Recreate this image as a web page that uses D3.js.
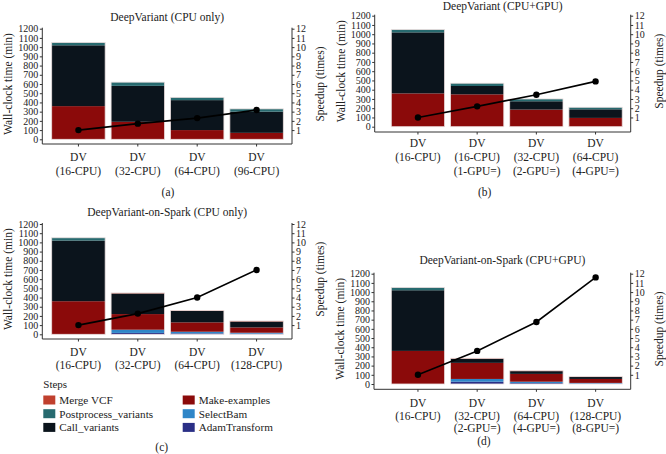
<!DOCTYPE html>
<html><head><meta charset="utf-8">
<script src="https://cdn.jsdelivr.net/npm/d3@7"></script>
<style>body{margin:0;background:#fff}</style>
</head><body>
<script>
// ---- data ----
const steps = ["AdamTransform","SelectBam","Make-examples","Call_variants","Postprocess_variants","Merge VCF"];
const stepColors = ["#2a2f86","#2f86c8","#8b0a0a","#0b141c","#276a6f","#c0402e"];

const catsA = [["DV","(16-CPU)"],["DV","(32-CPU)"],["DV","(64-CPU)"],["DV","(96-CPU)"]];
const catsB = [["DV","(16-CPU)"],["DV","(16-CPU)","(1-GPU=)"],["DV","(32-CPU)","(2-GPU=)"],["DV","(64-CPU)","(4-GPU=)"]];
const catsC = [["DV","(16-CPU)"],["DV","(32-CPU)"],["DV","(64-CPU)"],["DV","(128-CPU)"]];
const catsD = [["DV","(16-CPU)"],["DV","(32-CPU)","(2-GPU=)"],["DV","(64-CPU)","(4-GPU=)"],["DV","(128-CPU)","(8-GPU=)"]];

// minutes per step, order = steps
const adamA = [0,0,0,0],   selectA = [0,0,0,0],   makeA = [360,190,100,70], callA = [660,390,325,230], postA = [30,40,30,30], mergeA = [0,0,0,0];
const adamB = [0,0,0,0],   selectB = [0,0,0,0],   makeB = [360,350,185,95], callB = [660,90,90,93],    postB = [30,30,25,22], mergeB = [0,0,0,0];
const adamC = [0,15,10,7], selectC = [0,35,18,10], makeC = [360,170,102,58], callC = [660,225,125,65], postC = [30,0,0,0],  mergeC = [0,5,5,5];
const adamD = [0,25,10,5], selectD = [0,30,15,7],  makeD = [360,175,85,43],  callD = [660,45,30,22],   postD = [30,0,0,0],  mergeD = [0,5,5,3];

const speedA = [1,1.7,2.3,3.18];
const speedB = [1,2.2,3.45,4.9];
const speedC = [1,2.25,4.0,7.0];
const speedD = [1,3.6,6.75,11.6];

const titles = ["DeepVariant (CPU only)","DeepVariant (CPU+GPU)","DeepVariant-on-Spark (CPU only)","DeepVariant-on-Spark (CPU+GPU)"];
const captions = ["(a)","(b)","(c)","(d)"];
const yTicks = d3.range(0,1201,100);
const sTicks = d3.range(1,13,1);

const FONT = "Liberation Serif, DejaVu Serif, serif";

// ---- layout ----
const panels = [
 {cats:catsA, vals:[adamA,selectA,makeA,callA,postA,mergeA], speed:speedA, left:42.3, right:292, y0:139.3, yTop:28.7, bottom:144, bx:[51.7,283.3], titleY:17, labY:156.7, labDy:14, capX:168, capY:192.3},
 {cats:catsB, vals:[adamB,selectB,makeB,callB,postB,mergeB], speed:speedB, left:374.7, right:630.7, y0:126.7, yTop:15.7, bottom:132, bx:[391.3,622.2], titleY:5.5, labY:142.7, labDy:14, capX:484.7, capY:192.3},
 {cats:catsC, vals:[adamC,selectC,makeC,callC,postC,mergeC], speed:speedC, left:42.3, right:292, y0:334.3, yTop:224, bottom:339, bx:[51.7,283.3], titleY:212.3, labY:351.7, labDy:13.5, capX:161.7, capY:447.3},
 {cats:catsD, vals:[adamD,selectD,makeD,callD,postD,mergeD], speed:speedD, left:374, right:630.7, y0:384, yTop:273.7, bottom:389.3, bx:[391.3,622.3], titleY:260, labY:403.3, labDy:12.5, capX:484, capY:441}
];

const svg = d3.select("body").append("svg").attr("width",666).attr("height",454).attr("font-family",FONT);

panels.forEach((p,pi)=>{
  const g = svg.append("g");
  const idx = d3.range(p.cats.length);
  const x = d3.scaleBand().domain(idx).range(p.bx).paddingInner(0.1).paddingOuter(0);
  const y = d3.scaleLinear().domain([0,1200]).range([p.y0,p.yTop]);
  const s = d3.scaleLinear().domain([0,12]).range([p.y0,p.yTop]);

  // stacked bars
  const rows = idx.map(i=>{const o={i}; steps.forEach((st,k)=>o[st]=p.vals[k][i]); return o;});
  const series = d3.stack().keys(steps)(rows);
  series.forEach((ser,k)=>{
    g.append("g").selectAll("rect").data(ser).join("rect")
      .attr("x",d=>x(d.data.i)).attr("width",x.bandwidth())
      .attr("y",d=>y(d[1])).attr("height",d=>Math.max(0,y(d[0])-y(d[1])))
      .attr("fill",stepColors[k]);
  });
  // bar outline
  g.append("g").selectAll("rect").data(rows).join("rect")
    .attr("x",d=>x(d.i)).attr("width",x.bandwidth())
    .attr("y",d=>y(d3.sum(steps,st=>d[st]))).attr("height",d=>y(0)-y(d3.sum(steps,st=>d[st])))
    .attr("fill","none").attr("stroke","#eadede").attr("stroke-width",0.8);

  // speedup line
  const line = d3.line().x((d,i)=>x(i)+x.bandwidth()/2).y(d=>s(d));
  g.append("path").datum(p.speed).attr("d",line).attr("fill","none").attr("stroke","#000").attr("stroke-width",1.6);
  g.append("g").selectAll("circle").data(p.speed).join("circle")
    .attr("cx",(d,i)=>x(i)+x.bandwidth()/2).attr("cy",d=>s(d)).attr("r",3.2).attr("fill","#000");

  // left axis
  const la = g.append("g").attr("transform",`translate(${p.left},0)`)
    .call(d3.axisLeft(y).tickValues(yTicks).tickFormat(d3.format("d")).tickSize(2.5).tickPadding(1.5));
  la.attr("font-family",FONT).attr("font-size",10);
  la.select(".domain").remove();
  la.selectAll("text").attr("fill","#222");
  la.selectAll("line").attr("stroke","#333");
  // right axis
  const ra = g.append("g").attr("transform",`translate(${p.right},0)`)
    .call(d3.axisRight(s).tickValues(sTicks).tickFormat(d3.format("d")).tickSize(2.5).tickPadding(1.5));
  ra.attr("font-family",FONT).attr("font-size",10);
  ra.select(".domain").remove();
  ra.selectAll("text").attr("fill","#222");
  ra.selectAll("line").attr("stroke","#333");

  // frame lines
  g.append("line").attr("x1",p.left).attr("x2",p.left).attr("y1",p.yTop-1).attr("y2",p.bottom).attr("stroke","#333");
  g.append("line").attr("x1",p.right).attr("x2",p.right).attr("y1",p.yTop-1).attr("y2",p.bottom).attr("stroke","#333");
  g.append("line").attr("x1",p.left).attr("x2",p.right).attr("y1",p.bottom).attr("y2",p.bottom).attr("stroke","#333");
  // x ticks & labels
  idx.forEach(i=>{
    const cx = x(i)+x.bandwidth()/2;
    g.append("line").attr("x1",cx).attr("x2",cx).attr("y1",p.bottom).attr("y2",p.bottom+2.5).attr("stroke","#333");
    p.cats[i].forEach((t,j)=>{
      g.append("text").attr("x",cx).attr("y",p.labY+j*p.labDy).attr("dy","0.35em")
        .attr("text-anchor","middle").attr("font-size",11.5).attr("fill","#222").text(t);
    });
  });

  // titles
  g.append("text").attr("x",(p.left+p.right)/2).attr("y",p.titleY).attr("dy","0.35em")
    .attr("text-anchor","middle").attr("font-size",11.5).attr("fill","#222").text(titles[pi]);
  g.append("text").attr("transform",`translate(${p.left-34},${(p.y0+p.yTop)/2}) rotate(-90)`).attr("dy","0.35em")
    .attr("text-anchor","middle").attr("font-size",11.5).attr("fill","#222").text("Wall-clock time (min)");
  g.append("text").attr("transform",`translate(${p.right+28},${(p.y0+p.yTop)/2}) rotate(-90)`).attr("dy","0.35em")
    .attr("text-anchor","middle").attr("font-size",11.5).attr("fill","#222").text("Speedup (times)");
  g.append("text").attr("x",p.capX).attr("y",p.capY).attr("dy","0.35em")
    .attr("text-anchor","middle").attr("font-size",11.5).attr("fill","#222").text(captions[pi]);
});

// legend
const legendCols = [["Merge VCF","Postprocess_variants","Call_variants"],["Make-examples","SelectBam","AdamTransform"]];
const lg = svg.append("g");
lg.append("text").attr("x",43.3).attr("y",384).attr("dy","0.35em").attr("font-size",11).attr("fill","#222").text("Steps");
legendCols.forEach((col,ci)=>{
  const kx = ci===0?43.3:182.7;
  col.forEach((name,ri)=>{
    const cy = 400+ri*13.7;
    lg.append("rect").attr("x",kx).attr("y",cy-4.5).attr("width",12).attr("height",9).attr("fill",stepColors[steps.indexOf(name)]);
    lg.append("text").attr("x",kx+16).attr("y",cy).attr("dy","0.35em").attr("font-size",11.2).attr("fill","#222").text(name);
  });
});
</script>
</body></html>
